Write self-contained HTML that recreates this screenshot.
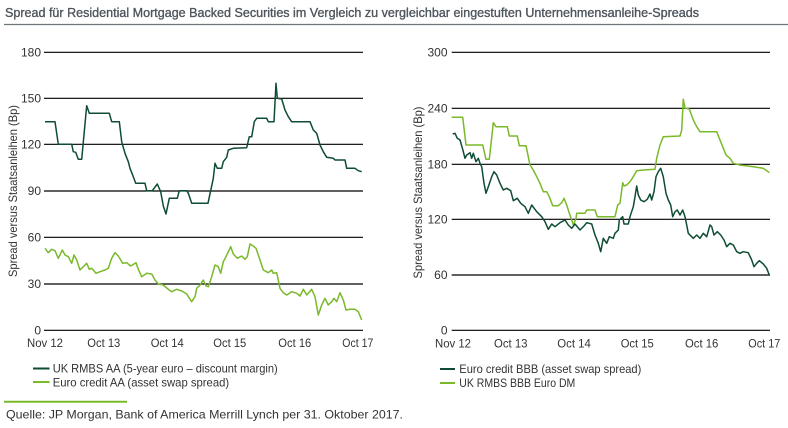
<!DOCTYPE html>
<html><head><meta charset="utf-8"><style>
html,body{margin:0;padding:0;background:#fff;}
svg{display:block;}
text{font-family:"Liberation Sans",sans-serif;}
</style></head><body>
<svg width="788" height="428" viewBox="0 0 788 428" xmlns="http://www.w3.org/2000/svg">
<rect width="788" height="428" fill="#fff"/>
<text x="5" y="17" font-size="13" fill="#4d555c" stroke="#4d555c" stroke-width="0.35" textLength="694" lengthAdjust="spacingAndGlyphs">Spread für Residential Mortgage Backed Securities im Vergleich zu vergleichbar eingestuften Unternehmensanleihe-Spreads</text>
<line x1="4" y1="24.5" x2="788" y2="24.5" stroke="#6e757b" stroke-width="1.2"/>

<!-- LEFT CHART -->
<g stroke="#000" stroke-width="1.2">
<line x1="44" y1="52.3" x2="363" y2="52.3"/>
<line x1="44" y1="98.3" x2="363" y2="98.3"/>
<line x1="44" y1="144.3" x2="363" y2="144.3"/>
<line x1="44" y1="191" x2="363" y2="191"/>
<line x1="44" y1="237.3" x2="363" y2="237.3"/>
<line x1="44" y1="284" x2="363" y2="284"/>
<line x1="44" y1="330.3" x2="363" y2="330.3"/>
</g>
<g font-size="12" fill="#333" text-anchor="end">
<text x="41" y="56.5">180</text>
<text x="41" y="102.5">150</text>
<text x="41" y="148.5">120</text>
<text x="41" y="195">90</text>
<text x="41" y="241.5">60</text>
<text x="41" y="288">30</text>
<text x="41" y="334.5">0</text>
</g>
<text transform="translate(17,191) rotate(-90)" font-size="12" fill="#333" text-anchor="middle" textLength="172" lengthAdjust="spacingAndGlyphs">Spread versus Staatsanleihen (Bp)</text>
<g font-size="12" fill="#333">
<text x="27" y="347" textLength="36" lengthAdjust="spacingAndGlyphs">Nov 12</text>
<text x="87.3" y="347" textLength="33" lengthAdjust="spacingAndGlyphs">Oct 13</text>
<text x="150.7" y="347" textLength="33" lengthAdjust="spacingAndGlyphs">Oct 14</text>
<text x="213.3" y="347" textLength="33" lengthAdjust="spacingAndGlyphs">Oct 15</text>
<text x="278.3" y="347" textLength="33" lengthAdjust="spacingAndGlyphs">Oct 16</text>
<text x="342.3" y="347" textLength="31" lengthAdjust="spacingAndGlyphs">Oct 17</text>
</g>
<polyline fill="none" stroke="#7ab929" stroke-width="1.5" stroke-linejoin="round" points="45,248.3 48.3,252.7 51.7,249.3 55,250.7 58.3,258.3 62.3,250 65,255 68.3,256.7 71.7,263.3 74,255 76.7,260 80,270 83.3,266.7 86.7,263.3 89.3,269.3 91.7,268.3 96,273.3 100,271.7 105,270 108.3,268.3 111.7,258.3 115,252.7 118.3,256 122.7,263.3 126.7,262.7 130.7,266 136,262.7 138.3,269.3 141.7,276.7 146.7,273.3 151.7,274 155,280 158.3,284 163.3,285 168.3,289.3 171.7,291.7 176.7,289.3 181.7,291 186.7,294 191.7,301.7 195,296.7 196.7,288.3 200,285 203.3,280 206,286 208.3,286.7 211.7,276.7 215,265 218.3,266.7 220.7,273.3 223.3,261.7 226,256.7 230.7,246.7 233.3,254 237.3,258.3 241.7,256 245,259.3 247.3,256.7 250,244 253.3,246 256,248.3 260,260 263.3,270 268.3,272.7 271.7,270 273.3,273.3 276.7,272.7 280,288.3 283.3,292.7 286.7,295 291.7,291.7 296.7,293.3 300,296 303.3,289.3 306.7,295 311.7,289.3 315,296.7 318.3,315 321.7,305 325,298.3 328.3,305 331.7,301.7 334,298.3 336.7,301.7 340,292.7 343.3,300 346,310 350,309.3 355,309.3 358.3,311.7 361.7,320"/>
<polyline fill="none" stroke="#0f4d33" stroke-width="1.5" stroke-linejoin="round" points="45,121.7 55,121.7 58.3,144.3 71.7,144.3 73.3,151.7 75.7,152.3 78.3,159.3 81.7,159.3 86.7,105.7 89.3,113.3 109.3,113.3 111.7,121.7 119.3,121.7 121.7,141.7 125,153.3 128.3,161.7 130,168.3 133.3,176.7 135.7,183.3 145,183.3 146.7,190.7 152.3,190.7 157.3,184 160.7,191.7 163.3,206 166,214 169.3,198.3 177.3,198.3 179.3,190.7 186.7,190.7 188.3,193.3 191.7,203.3 208,203.3 213.3,178.3 215,163.3 217.3,168.3 221.7,168.3 223.3,161.7 226.7,157.3 228.3,150 233.3,148.3 246.7,147.7 249.3,136.7 251.7,136.7 254.3,121.7 256.7,118.3 266.7,118.3 268.3,121.7 274,121.7 276,83.3 277.3,98.3 281.7,99 285,110 288.3,116.7 291.7,121.7 310,121.7 313.3,130 316.7,133.3 320,145 323.3,151.7 326.7,157.3 333.3,158.3 335,160 345,160 346.7,168.3 355,168.3 358.3,170.7 361.7,171.7"/>

<!-- RIGHT CHART -->
<g stroke="#000" stroke-width="1.2">
<line x1="451.7" y1="52.3" x2="770" y2="52.3"/>
<line x1="451.7" y1="108.3" x2="770" y2="108.3"/>
<line x1="451.7" y1="164.3" x2="770" y2="164.3"/>
<line x1="451.7" y1="219.3" x2="770" y2="219.3"/>
<line x1="451.7" y1="275" x2="770" y2="275"/>
<line x1="451.7" y1="330.3" x2="770" y2="330.3"/>
</g>
<g font-size="12" fill="#333" text-anchor="end">
<text x="447.5" y="56.5">300</text>
<text x="447.5" y="112.5">240</text>
<text x="447.5" y="168.5">180</text>
<text x="447.5" y="223.5">120</text>
<text x="447.5" y="279">60</text>
<text x="447.5" y="334.5">0</text>
</g>
<text transform="translate(422,192.5) rotate(-90)" font-size="12" fill="#333" text-anchor="middle" textLength="172" lengthAdjust="spacingAndGlyphs">Spread versus Staatsanleihen (Bp)</text>
<g font-size="12" fill="#333">
<text x="435" y="347.5" textLength="36" lengthAdjust="spacingAndGlyphs">Nov 12</text>
<text x="494" y="347.5" textLength="33.5" lengthAdjust="spacingAndGlyphs">Oct 13</text>
<text x="557.3" y="347.5" textLength="33.5" lengthAdjust="spacingAndGlyphs">Oct 14</text>
<text x="620.7" y="347.5" textLength="33" lengthAdjust="spacingAndGlyphs">Oct 15</text>
<text x="685" y="347.5" textLength="33.3" lengthAdjust="spacingAndGlyphs">Oct 16</text>
<text x="748.3" y="347.5" textLength="32" lengthAdjust="spacingAndGlyphs">Oct 17</text>
</g>
<polyline fill="none" stroke="#7ab929" stroke-width="1.5" stroke-linejoin="round" points="451.7,117.3 462.7,117.3 466,145 482.7,145 486,159.3 489.3,159.3 493.3,122.7 496,126.7 507.3,126.7 509.3,136 517.3,136 519.3,145.7 526,145.7 530,165 533.3,170 536.7,176.7 540,183.3 543.3,191.7 546.7,191.7 549.3,196.7 552.7,205.7 558.3,205.7 561.7,202.7 564,198.3 566.7,205 569.3,213.3 571.7,220 573.3,225 576,218.3 576.7,213.3 585,213.3 586.7,210 595,210 597.3,216.7 615,216.7 617.7,205 620,203.3 622.7,182.7 624,186 626.7,185 630,181.7 633.3,176.7 636.7,170.7 643.3,170 655,169.3 656.7,158.3 660,145 663.3,136.7 680,136 681.7,130 683.3,99.3 685,108.3 689.3,109 693.3,120 696.7,126.7 700,131.7 716.7,131.7 719.3,138.3 722.7,146.7 726,155 730,158.3 733.3,163.3 740,165 753.3,166.7 763.3,168.3 769.3,172.7"/>
<polyline fill="none" stroke="#0f4d33" stroke-width="1.5" stroke-linejoin="round" points="452.7,134 455,133.3 457.3,138.3 460,140 462.7,149.3 465,158.3 466.7,155 468.3,154 470,152.7 471.7,158.3 473.3,153.3 476,161.7 478.3,158.3 480,163.3 481.7,166.7 484,183.3 486,193.3 488.3,186.7 491.7,176.7 494,171.7 496.7,175 500,183.3 503.3,190 506.7,188.3 510.7,190.7 513.3,200.7 517.3,198.3 520.7,203.3 525,206.7 528.3,213.3 531.7,205 536.7,211.7 541.7,216.7 545,221.7 548.3,229.3 551.7,224 555,226.7 560,222.7 565,220 568.3,225 571.7,228.3 575,224 580,230 584,226 586.7,222.7 591.7,224 595,235 598.3,243.3 600.7,251.7 603.3,238.3 606.7,243.3 609.3,236.7 613.3,238.3 615,233.3 618.3,230 619.3,220 622.7,216.7 624,224 628.3,224 630,216.7 633.3,206.7 635,196.7 636.7,186 638.3,195 640.7,200 644,201.7 647.3,199.3 650,194 651.7,200 654,191.7 656,176.7 658.3,171.7 660.7,168.3 663.3,176.7 666,193.3 668.3,200 670.7,205 672.7,216.7 675,211.7 677.3,210 680,215 682.7,210 685,216.7 686.7,225 688.3,233.3 693.3,238.3 696.7,235 700,238.3 703.3,233.3 706.7,236.7 710,225 711.7,226.7 714,235 717.3,231.7 720.7,235 724,240 726.7,246.7 730,243.3 733.3,245 736.7,251.7 740,253.3 743.3,251.7 748.3,252.7 751.7,260 754,266.7 756.7,263.3 759.3,260.7 763.3,264 766.7,268.3 769.3,275"/>

<!-- LEGENDS -->
<line x1="33" y1="368.5" x2="49.5" y2="368.5" stroke="#0f4d33" stroke-width="2"/>
<line x1="33" y1="382" x2="49.5" y2="382" stroke="#7ab929" stroke-width="2"/>
<g font-size="12" fill="#333">
<text x="52.7" y="372.5" textLength="225" lengthAdjust="spacingAndGlyphs">UK RMBS AA (5-year euro – discount margin)</text>
<text x="52.7" y="386.5" textLength="176.5" lengthAdjust="spacingAndGlyphs">Euro credit AA (asset swap spread)</text>
</g>
<line x1="440" y1="369" x2="455" y2="369" stroke="#0f4d33" stroke-width="2"/>
<line x1="440" y1="383" x2="455" y2="383" stroke="#7ab929" stroke-width="2"/>
<g font-size="12" fill="#333">
<text x="459.3" y="373" textLength="182" lengthAdjust="spacingAndGlyphs">Euro credit BBB (asset swap spread)</text>
<text x="459.3" y="387" textLength="116" lengthAdjust="spacingAndGlyphs">UK RMBS BBB Euro DM</text>
</g>

<!-- SOURCE -->
<line x1="4" y1="401.7" x2="127" y2="401.7" stroke="#7ab929" stroke-width="2"/>
<text x="6" y="418.5" font-size="12" fill="#333" textLength="397" lengthAdjust="spacingAndGlyphs">Quelle: JP Morgan, Bank of America Merrill Lynch per 31. Oktober 2017.</text>
</svg>
</body></html>
